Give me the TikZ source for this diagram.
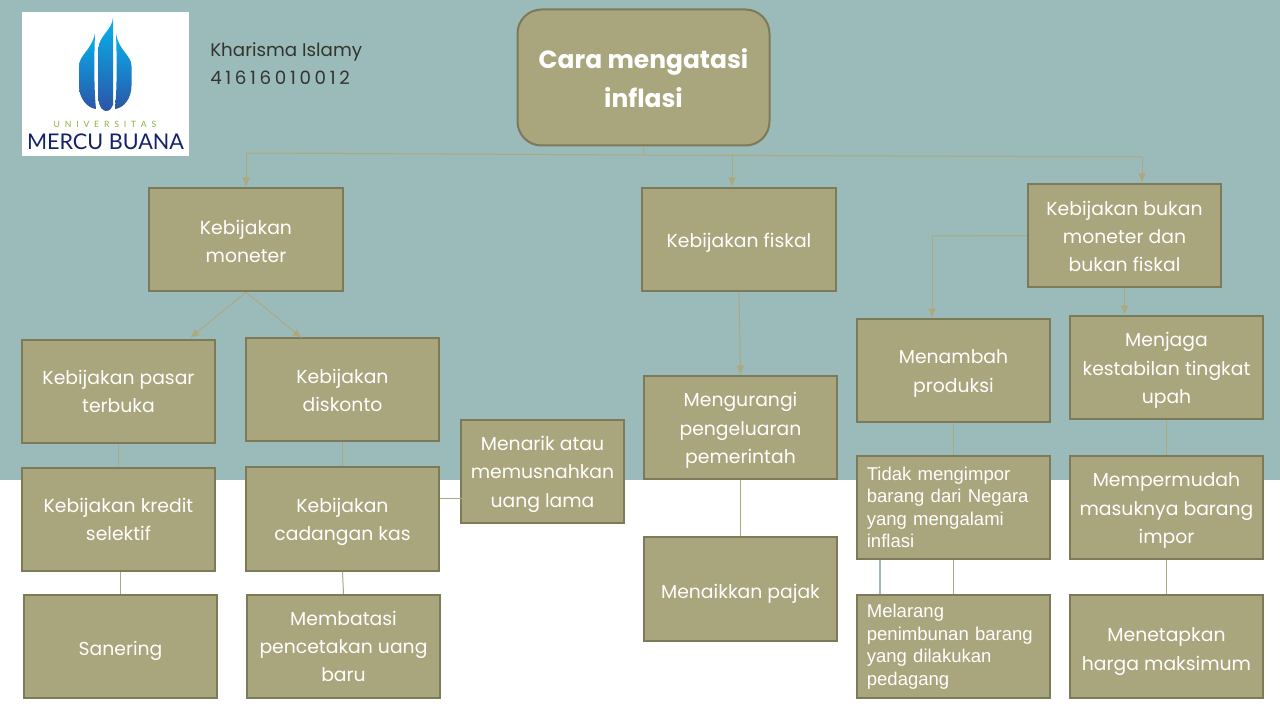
\documentclass[tikz,border=0pt]{standalone}
\usepackage{fontspec}
\usetikzlibrary{arrows.meta}
\setmainfont{Poppins}
\newfontfamily\arialfont{Liberation Sans}
\newfontfamily\logofont{Lato}
\definecolor{teal1}{HTML}{9BBBBB}
\definecolor{olive1}{HTML}{A9A57C}
\definecolor{olive2}{HTML}{7C7A58}
\definecolor{line1}{HTML}{ADA97F}
\definecolor{ink1}{HTML}{33352B}
\definecolor{navy1}{HTML}{14216B}
\definecolor{green1}{HTML}{8DB33A}
\definecolor{sky1}{HTML}{06B2EC}
\definecolor{sky2}{HTML}{0C7FBF}
\definecolor{sky3}{HTML}{2B55A8}
\newcommand{\dropline}[1]{\rule{0pt}{#1}}
\begin{document}
\begin{tikzpicture}[x=0.75pt, y=-0.75pt, >={Latex[length=7pt,width=6pt]},
		box/.style = {draw=olive2, line width=1.5pt, fill=olive1, text=white, minimum width=145pt, minimum height=77.5pt, inner sep=1pt, align=center, font=\fontsize{14.1}{21.3}\selectfont},
		plainbox/.style = {box, align=left, text width=130pt, font=\arialfont\fontsize{13.9}{16.9}\selectfont},
		link/.style = {draw=line1, line width=0.75pt},
		arrow/.style = {link, ->},
		flame/.style = {top color=sky1, middle color=sky2, bottom color=sky3}]
		
		\useasboundingbox (0,0) rectangle (1280,720);
		\fill[white] (0,0) rectangle (1280,720);
		\fill[teal1] (0,0) rectangle (1280,480);
		
		% logo
		\fill[white] (22,12) rectangle (189,156);
		\shade[flame] (95,33) .. controls (92,50) and (79,55) .. (79,66) -- (79,86) .. controls (79,98) and (87,108) .. (96,109) .. controls (94,90) and (94,60) .. (95,33);
		\shade[flame] (113,18) .. controls (112,30) and (99,36) .. (98.5,48) -- (98.5,100) .. controls (99,107) and (103,111) .. (106,111) .. controls (110,111) and (112,108) .. (113,105) -- cycle;
		\shade[flame] (116,33) .. controls (118,50) and (131.5,55) .. (131.5,66) -- (131.5,86) .. controls (131.5,98) and (124,108) .. (115,109) .. controls (117,90) and (117,60) .. (116,33);
		\node[text=green1, font=\logofont\fontsize{6.5}{8}\selectfont] (univ) at (105,124) {U\hspace{3.6pt}N\hspace{3.6pt}I\hspace{3.6pt}V\hspace{3.6pt}E\hspace{3.6pt}R\hspace{3.6pt}S\hspace{3.6pt}I\hspace{3.6pt}T\hspace{3.6pt}A\hspace{3.6pt}S};
		\node[text=navy1, font=\logofont\fontsize{16.2}{20}\selectfont] (mercu) at (105.5,142) {MERCU BUANA};
		
		\node[anchor=west, text=ink1, font=\fontsize{13.7}{21}\selectfont, align=left, inner sep=0pt] (author) at (210,64) {Kharisma Islamy\\\addfontfeature{LetterSpace=20}41616010012};
		
		% top
		\node[box, rounded corners=18pt, minimum width=189pt, minimum height=102pt, font=\bfseries\fontsize{18.7}{29}\selectfont] (cara) at (643.5,77.5) {\dropline{15.5pt}Cara mengatasi\\inflasi};
		
		% first row
		\node[box] (moneter) at (246,239.5) {\dropline{13.5pt}Kebijakan\\moneter};
		\node[box] (fiskal) at (739,239.5) {\dropline{15.5pt}Kebijakan fiskal};
		\node[box] (bukan) at (1124.5,235.5) {\dropline{12pt}Kebijakan bukan\\moneter dan\\bukan fiskal};
		
		% second row
		\node[box] (pasar) at (118.5,391.5) {Kebijakan pasar\\terbuka};
		\node[box] (diskonto) at (342.5,389.5) {\dropline{12pt}Kebijakan\\diskonto};
		\node[box] (kurangi) at (740.5,427.5) {\dropline{15pt}Mengurangi\\pengeluaran\\pemerintah};
		\node[box] (tambah) at (953.5,370.5) {\dropline{15pt}Menambah\\produksi};
		\node[box] (jaga) at (1166.5,367.5) {\dropline{15.5pt}Menjaga\\kestabilan tingkat\\upah};
		\node[box, minimum width=122pt] (tarik) at (542.5,471.5) {\dropline{15pt}Menarik atau\\memusnahkan\\uang lama};
		
		% third row
		\node[box] (kredit) at (118.5,519.5) {Kebijakan kredit\\selektif};
		\node[box] (kas) at (342.5,519) {\dropline{15pt}Kebijakan\\cadangan kas};
		\node[plainbox] (impor) at (953.5,507.5) {Tidak mengimpor\\barang dari Negara\\yang mengalami\\inflasi};
		\node[box] (mudah) at (1166.5,507.5) {\dropline{15.5pt}Mempermudah\\masuknya barang\\impor};
		
		% last row
		\node[box] (sanering) at (120.5,646.5) {\dropline{17pt}Sanering};
		\node[box] (cetak) at (343.5,646.5) {Membatasi\\pencetakan uang\\baru};
		\node[box] (pajak) at (740.5,589) {\dropline{18pt}Menaikkan pajak};
		\node[plainbox] (timbun) at (953.5,646.5) {Melarang\\penimbunan barang\\yang dilakukan\\pedagang};
		\node[box] (harga) at (1166.5,646.5) {\dropline{18pt}Menetapkan\\harga maksimum};
		
		\coordinate (busl) at (246,153);
		\coordinate (busm) at (644,155);
		\coordinate (busf) at (732,155.5);
		\coordinate (busr) at (1142,157);
		\coordinate (elbow) at (932,236);
		\coordinate (tipl) at (190,338);
		\coordinate (tipr) at (302,338);
		
		\draw[link] (cara.south) to (busm);
		\draw[link] (busm) to (busl);
		\draw[arrow] (busl) to (moneter.north);
		\draw[link] (busm) to (busr);
		\draw[arrow] (busf) to (busf |- fiskal.north);
		\draw[arrow] (busr) to (busr |- bukan.north);
		
		\draw[arrow] (moneter.south) to (tipl);
		\draw[arrow] (moneter.south) to (tipr);
		\draw[arrow] (fiskal.south) to (kurangi.north);
		\draw[link] (bukan.west) to (elbow);
		\draw[arrow] (elbow) to (elbow |- tambah.north);
		\draw[arrow] (bukan.south) to (jaga.north -| bukan.south);
		
		\draw[link] (pasar.south) to (kredit.north);
		\draw[link] (diskonto.south) to (diskonto.south |- kas.north);
		\draw[link] (kredit.south -| sanering.north) to (sanering.north);
		\draw[link] (kas.south) to (cetak.north);
		\draw[link] (kas.east |- tarik.west) ++(0,26.5) to ++(22,0);
		\draw[link] (kurangi.south) to (pajak.north);
		\draw[link] (tambah.south) to (impor.north);
		\draw[link] (impor.south) to (timbun.north);
		\draw[draw=teal1, line width=1.2pt] ([xshift=18pt]impor.south west) to ([xshift=18pt]timbun.north west);
		\draw[link] (jaga.south) to (mudah.north);
		\draw[link] (mudah.south) to (harga.north);
	\end{tikzpicture}
\end{document}
